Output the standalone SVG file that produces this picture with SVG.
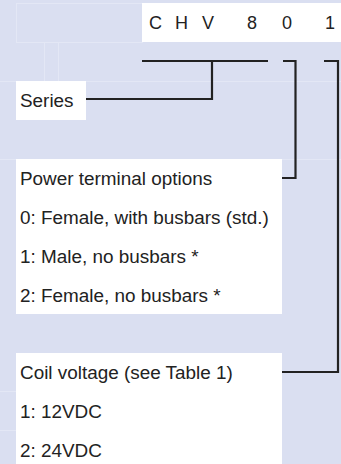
<svg xmlns="http://www.w3.org/2000/svg" width="341" height="464" viewBox="0 0 341 464">
<style>
.bg{fill:#dadff1}
.box{fill:#ffffff}
.grid{stroke:#e3e7f5;stroke-width:1;fill:none}
.t{font-family:"Liberation Sans",Arial,sans-serif;font-size:18.9px;fill:#222222}
.c{font-family:"Liberation Sans",Arial,sans-serif;font-size:18px;fill:#222222}
.ln{stroke:#222222;stroke-width:2.2;fill:none;stroke-linejoin:miter}
</style>
<rect class="bg" x="0" y="0" width="341" height="464"/>
<g id="grid">
<rect class="grid" x="16.5" y="3.5" width="126" height="39"/>
<line class="grid" x1="44.5" y1="42" x2="44.5" y2="81"/>
<line class="grid" x1="58.5" y1="42" x2="58.5" y2="81"/>
<line class="grid" x1="0" y1="81.5" x2="341" y2="81.5"/>
<line class="grid" x1="0" y1="159.5" x2="16" y2="159.5"/>
<line class="grid" x1="282" y1="159.5" x2="341" y2="159.5"/>
<line class="grid" x1="0" y1="391.5" x2="16" y2="391.5"/>
<line class="grid" x1="0" y1="430.5" x2="16" y2="430.5"/>
</g>
<g id="code">
<rect class="box" x="142" y="3" width="199" height="39"/>
<text class="c" x="149" y="29">C</text>
<text class="c" x="175" y="29">H</text>
<text class="c" x="202" y="29">V</text>
<text class="c" x="247" y="29">8</text>
<text class="c" x="282" y="29">0</text>
<text class="c" x="325" y="29">1</text>
</g>
<g id="series">
<rect class="box" x="16" y="81" width="70" height="39"/>
<text class="t" x="20" y="106.5">Series</text>
</g>
<g id="power">
<rect class="box" x="16" y="159" width="266" height="155"/>
<text class="t" x="20" y="185">Power terminal options</text>
<text class="t" x="20" y="224">0: Female, with busbars (std.)</text>
<text class="t" x="20" y="263">1: Male, no busbars *</text>
<text class="t" x="20" y="302">2: Female, no busbars *</text>
</g>
<g id="coil">
<rect class="box" x="16" y="353" width="266" height="111"/>
<text class="t" x="20" y="379">Coil voltage (see Table 1)</text>
<text class="t" x="20" y="418">1: 12VDC</text>
<text class="t" x="20" y="457">2: 24VDC</text>
</g>
<g id="connectors">
<line class="ln" x1="142" y1="61" x2="268" y2="61"/>
<polyline class="ln" points="212,61 212,99 86,99"/>
<polyline class="ln" points="283,61 295.5,61 295.5,178 282,178"/>
<polyline class="ln" points="324,61 338,61 338,372 282,372"/>
</g>
</svg>
